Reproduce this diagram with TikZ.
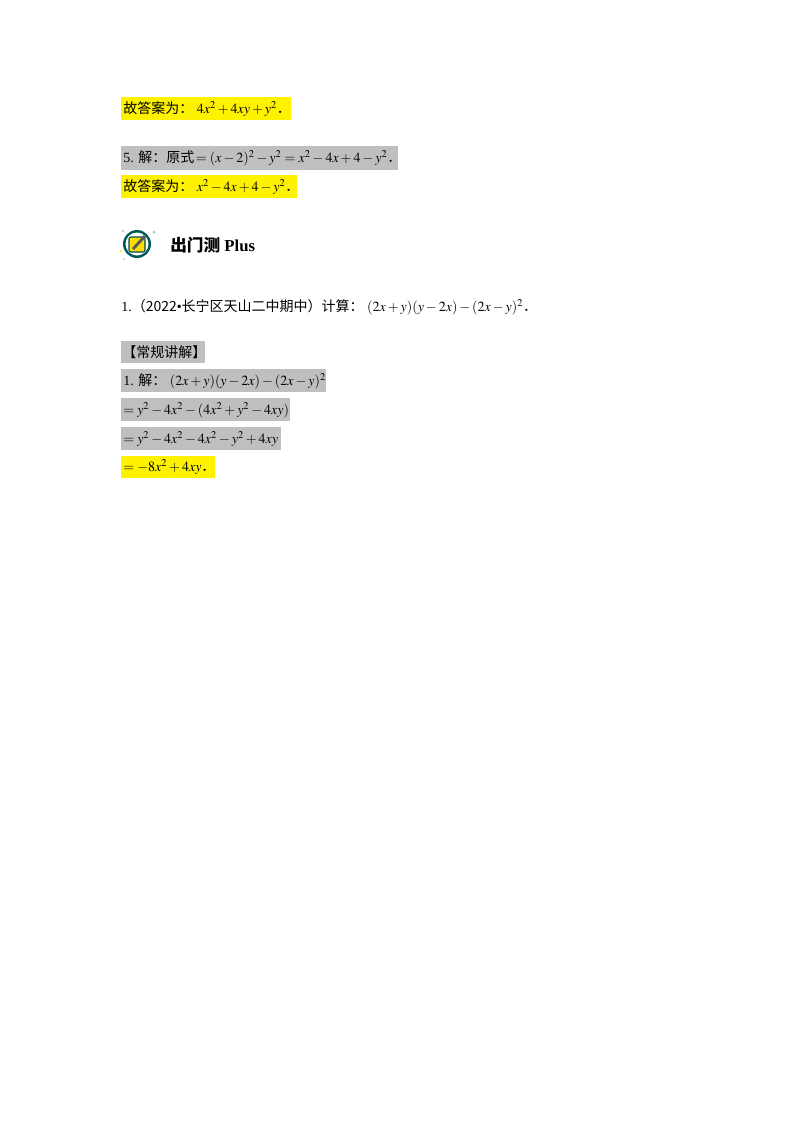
\documentclass[tikz,border=0pt]{standalone}
\usepackage{mathptmx}
\usepackage[no-math]{fontspec}
\setmainfont{Liberation Serif}
\newfontfamily\cjk{Noto Sans CJK SC}
\newcommand{\dotp}{{\cjk ．}}
\begin{document}
\begin{tikzpicture}[x=0.75pt,y=-0.75pt,
  yb/.style={fill=yellow,draw=none},
  gb/.style={fill=black!25,draw=none},
  t/.style={anchor=west,inner sep=0pt,font=\fontsize{10.5}{12}\selectfont}]
\useasboundingbox (0,0) rectangle (800,1132);
\fill[yb] (121,97) rectangle (291,120);
\fill[gb] (121,146) rectangle (398,170);
\fill[yb] (121,175) rectangle (297,198);
\fill[gb] (121,341) rectangle (205,363);
\fill[gb] (121,369) rectangle (326,392);
\fill[gb] (121,398) rectangle (290,421);
\fill[gb] (121,427) rectangle (281,450);
\fill[yb] (121,456) rectangle (215,478);
\node[t] (a1) at (123,109) {{\cjk 故答案为：} $4x^2+4xy+y^2$\dotp};
\node[t] (a2) at (123,158) {5. {\cjk 解：原式}$\,=(x-2)^2-y^2=x^2-4x+4-y^2$\dotp};
\node[t] (a3) at (123,187) {{\cjk 故答案为：} $x^2-4x+4-y^2$\dotp};
% icon
\fill[teal!70!black] (137,244) circle (14);
\fill[white] (137,244) circle (11.5);
\fill[yellow!80!orange,draw=teal!60!black,line width=0.8pt,rounded corners=1.5pt] (129,237) rectangle (145,252);
\draw[line width=2.2pt,gray!70!black] (133,249) -- (145,236);
\fill[teal!40] (123,231) circle (1.2) (154,232) circle (1.5) (124,259) circle (1);
\fill[yellow!80!orange] (121,251) circle (1.2);
\node[t,font=\fontsize{12.5}{14}\selectfont\bfseries] (title) at (170,245) {{\cjk\bfseries 出门测} Plus};
\node[t] (q1) at (121,307) {1.{\cjk （2022}•{\cjk 长宁区天山二中期中）计算：} $(2x+y)(y-2x)-(2x-y)^2$\dotp};
\node[t] (b0) at (122,352) {\cjk 【常规讲解】};
\node[t] (b1) at (123,381) {1. {\cjk 解：} $(2x+y)(y-2x)-(2x-y)^2$};
\node[t] (b2) at (123,410) {$=y^2-4x^2-(4x^2+y^2-4xy)$};
\node[t] (b3) at (123,439) {$=y^2-4x^2-4x^2-y^2+4xy$};
\node[t] (b4) at (123,467) {$=-8x^2+4xy$\dotp};
\end{tikzpicture}
\end{document}
